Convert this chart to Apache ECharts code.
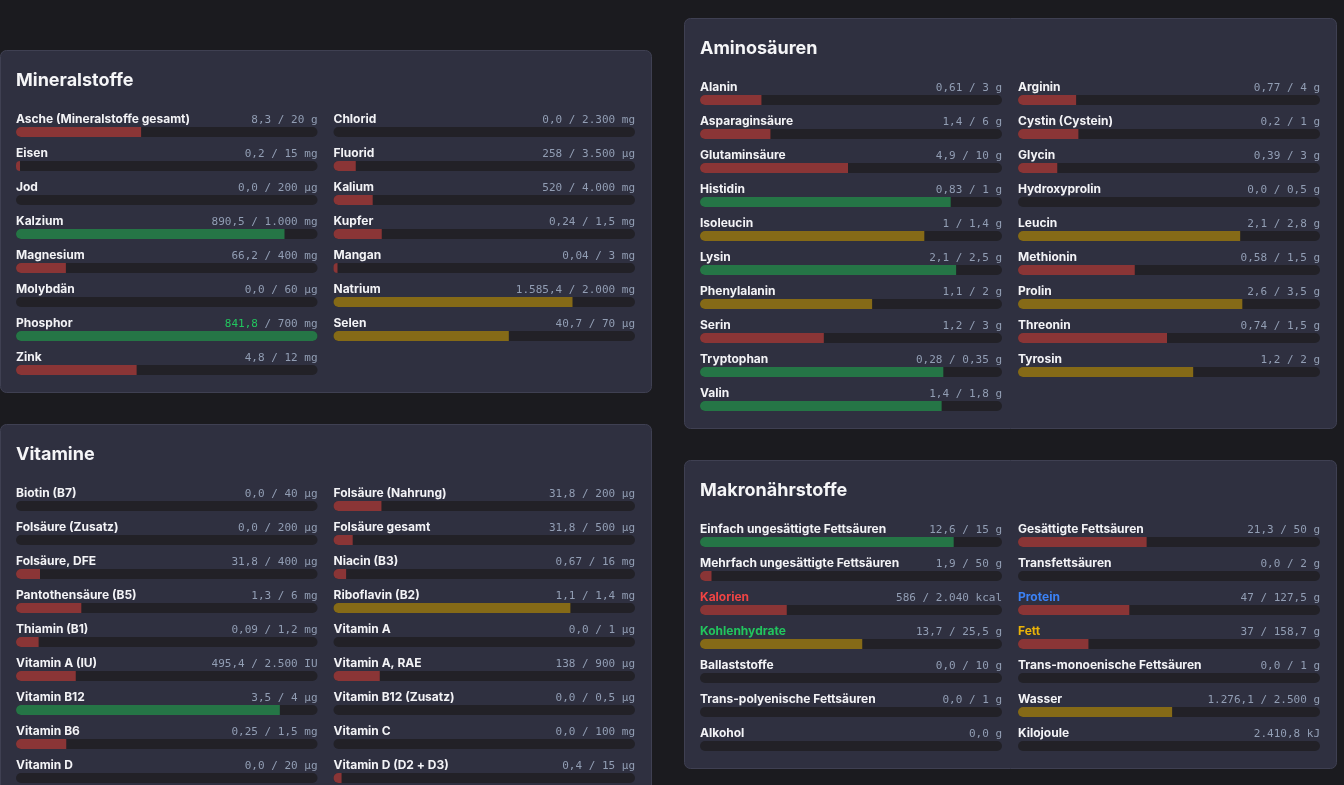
<!DOCTYPE html>
<html>
<head>
<meta charset="utf-8">
<script src="https://cdn.jsdelivr.net/npm/echarts@6/dist/echarts.min.js"></script>
<style>
html, body { margin: 0; padding: 0; background: #1b1b1f; }
#main { width: 1344px; height: 785px; }
</style>
</head>
<body>
<div id="main"></div>
<script>
// Mineralstoffe
var mineralNames = ['Asche (Mineralstoffe gesamt)', 'Chlorid', 'Eisen', 'Fluorid', 'Jod', 'Kalium', 'Kalzium', 'Kupfer',
    'Magnesium', 'Mangan', 'Molybdän', 'Natrium', 'Phosphor', 'Selen', 'Zink'];
var mineralValues = [8.3, 0, 0.2, 258, 0, 520, 890.5, 0.24, 66.2, 0.04, 0, 1585.4, 841.8, 40.7, 4.8];
var mineralTargets = [20, 2300, 15, 3500, 200, 4000, 1000, 1.5, 400, 3, 60, 2000, 700, 70, 12];
var mineralUnits = ['g', 'mg', 'mg', 'µg', 'µg', 'mg', 'mg', 'mg', 'mg', 'mg', 'µg', 'mg', 'mg', 'µg', 'mg'];

// Vitamine
var vitaminNames = ['Biotin (B7)', 'Folsäure (Nahrung)', 'Folsäure (Zusatz)', 'Folsäure gesamt', 'Folsäure, DFE', 'Niacin (B3)',
    'Pantothensäure (B5)', 'Riboflavin (B2)', 'Thiamin (B1)', 'Vitamin A', 'Vitamin A (IU)', 'Vitamin A, RAE',
    'Vitamin B12', 'Vitamin B12 (Zusatz)', 'Vitamin B6', 'Vitamin C', 'Vitamin D', 'Vitamin D (D2 + D3)'];
var vitaminValues = [0, 31.8, 0, 31.8, 31.8, 0.67, 1.3, 1.1, 0.09, 0, 495.4, 138, 3.5, 0, 0.25, 0, 0, 0.4];
var vitaminTargets = [40, 200, 200, 500, 400, 16, 6, 1.4, 1.2, 1, 2500, 900, 4, 0.5, 1.5, 100, 20, 15];
var vitaminUnits = ['µg', 'µg', 'µg', 'µg', 'µg', 'mg', 'mg', 'mg', 'mg', 'µg', 'IU', 'µg', 'µg', 'µg', 'mg', 'mg', 'µg', 'µg'];

// Aminosäuren
var aminoNames = ['Alanin', 'Arginin', 'Asparaginsäure', 'Cystin (Cystein)', 'Glutaminsäure', 'Glycin', 'Histidin', 'Hydroxyprolin',
    'Isoleucin', 'Leucin', 'Lysin', 'Methionin', 'Phenylalanin', 'Prolin', 'Serin', 'Threonin', 'Tryptophan', 'Tyrosin', 'Valin'];
var aminoValues = [0.61, 0.77, 1.4, 0.2, 4.9, 0.39, 0.83, 0, 1.04, 2.06, 2.12, 0.58, 1.14, 2.6, 1.23, 0.74, 0.282, 1.16, 1.44];
var aminoTargets = [3, 4, 6, 1, 10, 3, 1, 0.5, 1.4, 2.8, 2.5, 1.5, 2, 3.5, 3, 1.5, 0.35, 2, 1.8];
var aminoUnit = 'g';

// Makronährstoffe
var macroNames = ['Einfach ungesättigte Fettsäuren', 'Gesättigte Fettsäuren', 'Mehrfach ungesättigte Fettsäuren', 'Transfettsäuren',
    'Kalorien', 'Protein', 'Kohlenhydrate', 'Fett', 'Ballaststoffe', 'Trans-monoenische Fettsäuren',
    'Trans-polyenische Fettsäuren', 'Wasser', 'Alkohol', 'Kilojoule'];
var macroValues = [12.6, 21.3, 1.9, 0, 586, 47, 13.7, 37, 0, 0, 0, 1276.1, 0, 2410.8];
var macroTargets = [15, 50, 50, 2, 2040, 127.5, 25.5, 158.7, 10, 1, 1, 2500, null, null];
var macroUnits = ['g', 'g', 'g', 'g', 'kcal', 'g', 'g', 'g', 'g', 'g', 'g', 'g', 'g', 'kJ'];
var macroLabelColors = {Kalorien: '#ef4444', Protein: '#3b82f6', Kohlenhydrate: '#22c55e', Fett: '#eab308'};

var panels = [
    {title: 'Mineralstoffe', x: 0, y: 50, w: 651, names: mineralNames, values: mineralValues, targets: mineralTargets, units: mineralUnits},
    {title: 'Vitamine', x: 0, y: 424, w: 651, names: vitaminNames, values: vitaminValues, targets: vitaminTargets, units: vitaminUnits},
    {title: 'Aminosäuren', x: 684, y: 18, w: 652, names: aminoNames, values: aminoValues, targets: aminoTargets, units: aminoUnit},
    {title: 'Makronährstoffe', x: 684, y: 460, w: 652, names: macroNames, values: macroValues, targets: macroTargets, units: macroUnits}
];

var TRACK = '#222127', RED = '#8a3536', YELLOW = '#856a17', GREEN = '#257546';
var LABEL_FONT = 'bold 12px Inter, "Noto Sans", sans-serif';
var VALUE_FONT = '11px "DejaVu Sans Mono", monospace';
var VALUE_COLOR = '#929eb4';

/** deutsche Zahlenformatierung */
function fmt(v) {
    if (!v) return '0,0';
    var d = v < 1 ? 2 : 1;
    var p = Math.pow(10, d);
    var parts = (Math.round(v * p) / p).toString().split('.');
    parts[0] = parts[0].replace(/\B(?=(\d{3})+(?!\d))/g, '.');
    return parts.join(',');
}

function barColor(ratio) {
    if (ratio >= 0.8 - 1e-9) return GREEN;
    if (ratio >= 0.5) return YELLOW;
    return RED;
}

var graphic = [], grid = [], xAxis = [], yAxis = [], series = [];

panels.forEach(function (p) {
    var rows = Math.ceil(p.names.length / 2);
    graphic.push({
        type: 'rect', z: 0,
        shape: {x: p.x + 0.5, y: p.y + 0.5, width: p.w, height: 34 * rows + 70, r: 6},
        style: {fill: '#2f3040', stroke: '#3f4052', lineWidth: 1}
    });
    graphic.push({
        type: 'text', z: 1, x: p.x + 16, y: p.y + 31,
        style: {text: p.title, font: 'bold 18px Inter, "Noto Sans", sans-serif', fill: '#f5f5f7', textVerticalAlign: 'middle'}
    });
    var colW = (p.w - 48) / 2;
    p.names.forEach(function (name, i) {
        var row = Math.floor(i / 2), col = i % 2;
        var left = p.x + 16 + col * (colW + 16);
        var top = p.y + 69 + row * 34;
        var v = p.values[i], t = p.targets[i];
        var unit = typeof p.units === 'string' ? p.units : p.units[i];

        graphic.push({
            type: 'text', z: 1, x: left, y: top,
            style: {
                text: name, font: LABEL_FONT, textVerticalAlign: 'middle',
                fill: (p.names === macroNames && macroLabelColors[name]) || '#f3f3f6'
            }
        });
        var over = t != null && v > t;
        graphic.push({
            type: 'text', z: 1, x: left + colW, y: top + 1,
            style: {
                text: t != null ? '{a|' + fmt(v) + '}{b| / ' + fmt(t) + ' ' + unit + '}' : '{b|' + fmt(v) + ' ' + unit + '}',
                font: VALUE_FONT, textAlign: 'right', textVerticalAlign: 'middle',
                rich: {
                    a: {fill: over ? '#22c55e' : VALUE_COLOR, font: VALUE_FONT},
                    b: {fill: VALUE_COLOR, font: VALUE_FONT}
                }
            }
        });

        var idx = grid.length;
        grid.push({left: left, top: top + 8, width: colW, height: 10});
        xAxis.push({gridIndex: idx, type: 'value', min: 0, max: t || 1, show: false});
        yAxis.push({gridIndex: idx, type: 'category', data: [name], show: false});
        var ratio = t ? v / t : 0;
        series.push({
            type: 'bar', xAxisIndex: idx, yAxisIndex: idx, barWidth: 10, silent: true,
            showBackground: true,
            backgroundStyle: {color: TRACK, borderRadius: 5},
            data: [{
                value: t ? Math.min(v, t) : 0,
                itemStyle: {color: barColor(ratio), borderRadius: ratio >= 1 ? 5 : [5, 0, 0, 5]}
            }]
        });
    });
});

var chart = echarts.init(document.getElementById('main'), null, {renderer: 'canvas'});
chart.setOption({
    backgroundColor: '#1b1b1f',
    animation: false,
    graphic: graphic,
    grid: grid,
    xAxis: xAxis,
    yAxis: yAxis,
    series: series
});
</script>
</body>
</html>
